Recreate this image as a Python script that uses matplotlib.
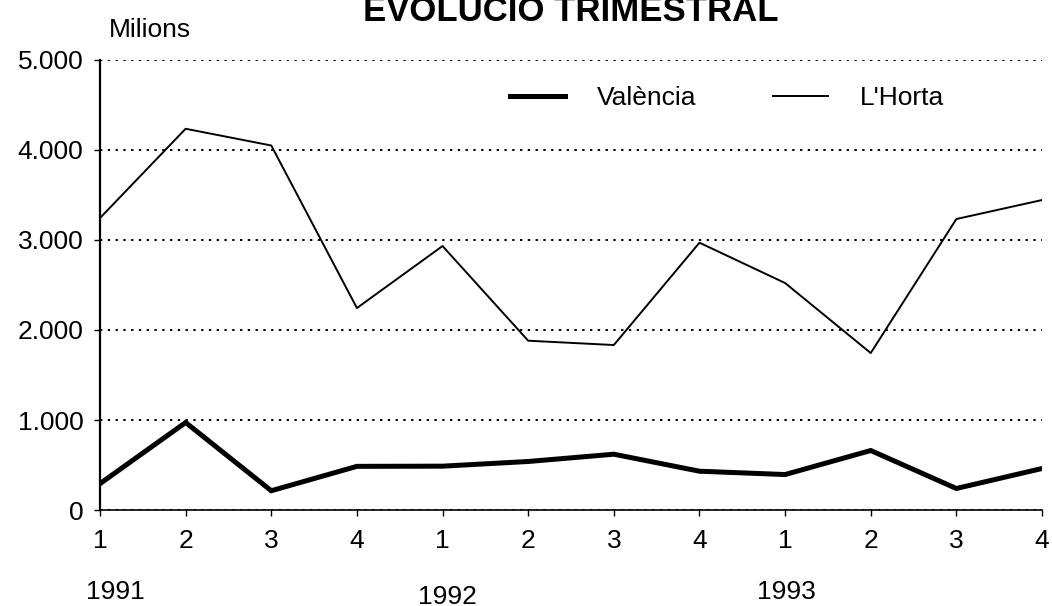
import matplotlib
matplotlib.use("Agg")
import matplotlib.pyplot as plt
from matplotlib.ticker import FuncFormatter

plt.rcParams['font.family'] = ['Liberation Sans', 'DejaVu Sans']

quarters = ['1', '2', '3', '4', '1', '2', '3', '4', '1', '2', '3', '4']
years = ['1991', '1992', '1993']
valencia = [293, 972, 214, 485, 487, 539, 620, 431, 394, 661, 239, 461]
horta = [3244, 4236, 4050, 2244, 2933, 1881, 1833, 2970, 2522, 1744, 3233, 3444]
yticks = [0, 1000, 2000, 3000, 4000, 5000]

FS = 19

fig = plt.figure(figsize=(10.52, 6.06), dpi=100)
ax = fig.add_axes([100/1052, 1-510/606, 942/1052, 450/606])

x = list(range(len(quarters)))
ax.plot(x, valencia, color='black', lw=3.6, solid_joinstyle='miter', label='València')
ax.plot(x, horta, color='black', lw=1.4, label="L'Horta")

ax.set_xlim(0, len(quarters)-1)
ax.set_ylim(0, 5000)
ax.set_yticks(yticks)
ax.yaxis.set_major_formatter(FuncFormatter(lambda v, p: f"{int(v):,}".replace(',', '.')))
ax.set_xticks(x)
ax.set_xticklabels(quarters)
ax.yaxis.grid(True, color='black', linestyle=(0, (1.2, 2.8)), lw=1.4)
ax.set_axisbelow(True)

for s in ['top', 'right']:
    ax.spines[s].set_visible(False)
ax.spines['left'].set_linewidth(1.6)
ax.spines['bottom'].set_linewidth(1.2)
ax.tick_params(axis='y', length=4, width=1, labelsize=FS, pad=8)
ax.tick_params(axis='x', length=4, width=1, labelsize=FS, pad=10)

leg = ax.legend(loc='upper left', bbox_to_anchor=(0.41, 0.995), ncol=2, frameon=False,
                fontsize=FS, handlelength=2.1, handletextpad=1.2, columnspacing=2.9)

# Year labels under quarter ticks
year_pos = [(115, 592), (447, 597), (786, 592)]
for yr, (px, py) in zip(years, year_pos):
    fig.text(px/1052, 1-py/606, yr, ha='center', va='center', fontsize=FS)

fig.text(150/1052, 1-37/606, 'Milions', ha='center', va='baseline', fontsize=FS)
fig.text(571/1052, 1-21/606, 'EVOLUCIÓ TRIMESTRAL', ha='center', va='baseline',
         fontsize=25, fontweight='bold')

fig.savefig('out.png', dpi=100)
